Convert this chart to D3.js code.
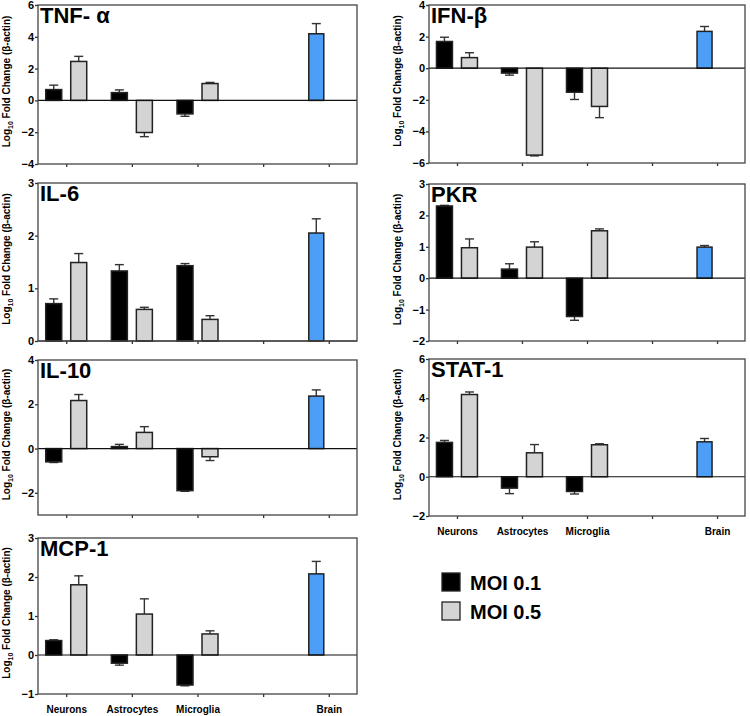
<!DOCTYPE html>
<html>
<head>
<meta charset="utf-8">
<script src="https://cdn.jsdelivr.net/npm/d3@7"></script>
<style>
  body { margin: 0; background: #fff; }
  svg { font-family: Arial, "Liberation Sans", sans-serif; font-weight: bold; }
</style>
</head>
<body>
<svg id="chart" width="750" height="716"></svg>
<script>
// categories along x (4th slot is an empty gap)
const categories = ["Neurons", "Astrocytes", "Microglia", "", "Brain"];
const cells = ["Neurons", "Astrocytes", "Microglia"];
const genes = ["TNF- α", "IFN-β", "IL-6", "PKR", "IL-10", "STAT-1", "MCP-1"];

// log10 fold change per gene, for Neurons / Astrocytes / Microglia
const moi01 = [
    [0.68, 0.49, -0.85],
    [1.69, -0.31, -1.52],
    [0.71, 1.33, 1.43],
    [2.30, 0.29, -1.22],
    [-0.60, 0.09, -1.90],
    [1.75, -0.58, -0.75],
    [0.37, -0.21, -0.77]
];
const moi01Err = [
    [0.28, 0.17, 0.15],
    [0.27, 0.13, 0.46],
    [0.09, 0.12, 0.04],
    [0.02, 0.17, 0.12],
    [0.03, 0.10, 0.03],
    [0.10, 0.28, 0.13],
    [0.02, 0.05, 0.02]
];
const moi05 = [
    [2.45, -2.02, 1.06],
    [0.67, -5.50, -2.42],
    [1.49, 0.60, 0.41],
    [0.97, 0.99, 1.51],
    [2.17, 0.73, -0.37],
    [4.19, 1.22, 1.63],
    [1.80, 1.05, 0.54]
];
const moi05Err = [
    [0.32, 0.26, 0.07],
    [0.31, 0.05, 0.71],
    [0.17, 0.04, 0.07],
    [0.28, 0.17, 0.06],
    [0.27, 0.26, 0.17],
    [0.13, 0.42, 0.05],
    [0.23, 0.39, 0.08]
];
const brain = [4.19, 2.33, 2.05, 0.99, 2.37, 1.78, 2.08];
const brainErr = [0.64, 0.31, 0.27, 0.05, 0.28, 0.17, 0.32];

// y axis extents and tick labels per gene
const yDomains = [[-4, 6], [-6, 4], [0, 3], [-2, 3], [-3, 4], [-2, 6], [-1, 3]];
const yTicks = [
    [-4, -2, 0, 2, 4, 6],
    [-6, -4, -2, 0, 2, 4],
    [0, 1, 2, 3],
    [-2, -1, 0, 1, 2, 3],
    [-2, 0, 2, 4],
    [-2, 0, 2, 4, 6],
    [-1, 0, 1, 2, 3]
];

const series = ["MOI 0.1", "MOI 0.5"];
const colors = { "MOI 0.1": "#000000", "MOI 0.5": "#d4d4d4", "Brain": "#4d9ef6" };

// panel frames: [left, right, top, bottom]
const frames = [
    [38, 357, 5, 164],
    [429, 745, 5, 163],
    [38, 357, 183, 341],
    [429, 745, 184, 341],
    [38, 357, 360, 515],
    [429, 745, 359, 516],
    [38, 357, 538, 694]
];
const showXLabels = [false, false, false, false, false, true, true];

const svg = d3.select("#chart");

genes.forEach((gene, i) => {
    const [l, r, t, b] = frames[i];
    const g = svg.append("g");

    const x = d3.scalePoint().domain(categories).range([l, r]).padding(0.43);
    const inner = d3.scaleBand().domain(series).range([-20.5, 20.5]).paddingInner(0.36);
    const y = d3.scaleLinear().domain(yDomains[i]).range([b, t]);

    // y axis
    g.append("g")
        .attr("transform", `translate(${l},0)`)
        .call(d3.axisLeft(y).tickValues(yTicks[i]).tickSize(3).tickPadding(1).tickFormat(d3.format("d")))
        .call(a => a.select(".domain").remove())
        .call(a => a.selectAll("line").attr("stroke", "#333").attr("stroke-width", 1.3))
        .call(a => a.selectAll("text").attr("font-size", 11).attr("font-weight", "bold").attr("fill", "#000"));

    // x axis
    g.append("g")
        .attr("transform", `translate(0,${b})`)
        .call(d3.axisBottom(x).tickSize(3).tickPadding(9).tickFormat(d => showXLabels[i] ? d : ""))
        .call(a => a.select(".domain").remove())
        .call(a => a.selectAll("line").attr("stroke", "#333").attr("stroke-width", 1.3))
        .call(a => a.selectAll("text").attr("font-size", 10).attr("font-weight", "bold").attr("fill", "#000"));

    // bars
    const rows = [];
    cells.forEach((c, j) => {
        rows.push({ cat: c, s: "MOI 0.1", v: moi01[i][j], e: moi01Err[i][j] });
        rows.push({ cat: c, s: "MOI 0.5", v: moi05[i][j], e: moi05Err[i][j] });
    });
    rows.push({ cat: "Brain", s: "Brain", v: brain[i], e: brainErr[i] });

    const bx = d => d.s === "Brain" ? x(d.cat) + inner("MOI 0.1") + 0.5 : x(d.cat) + inner(d.s);
    const bw = d => d.s === "Brain" ? inner.bandwidth() - 1 : inner.bandwidth();

    // error bars (one-sided, away from zero)
    const eg = g.selectAll(".err").data(rows).enter().append("g");
    eg.append("line")
        .attr("x1", d => bx(d) + bw(d) / 2)
        .attr("x2", d => bx(d) + bw(d) / 2)
        .attr("y1", d => y(d.v))
        .attr("y2", d => y(d.v >= 0 ? d.v + d.e : d.v - d.e))
        .attr("stroke", "#333").attr("stroke-width", 1.4);
    eg.append("line")
        .attr("x1", d => bx(d) + bw(d) / 2 - 4.5)
        .attr("x2", d => bx(d) + bw(d) / 2 + 4.5)
        .attr("y1", d => y(d.v >= 0 ? d.v + d.e : d.v - d.e))
        .attr("y2", d => y(d.v >= 0 ? d.v + d.e : d.v - d.e))
        .attr("stroke", "#333").attr("stroke-width", 1.4);

    g.selectAll(".bar").data(rows).enter().append("rect")
        .attr("x", bx)
        .attr("width", bw)
        .attr("y", d => y(Math.max(0, d.v)))
        .attr("height", d => Math.abs(y(d.v) - y(0)))
        .attr("fill", d => colors[d.s])
        .attr("stroke", "#222")
        .attr("stroke-width", 1.5);

    // zero line
    g.append("line")
        .attr("x1", l).attr("x2", r)
        .attr("y1", y(0)).attr("y2", y(0))
        .attr("stroke", "#111").attr("stroke-width", 1.2);

    // frame
    g.append("rect")
        .attr("x", l).attr("y", t)
        .attr("width", r - l).attr("height", b - t)
        .attr("fill", "none")
        .attr("stroke", "#444").attr("stroke-width", 1.3);

    // title
    g.append("text")
        .attr("x", l + 2).attr("y", t + 18)
        .attr("font-size", 22).attr("font-weight", "bold")
        .text(gene);

    // y label
    const yl = g.append("text")
        .attr("transform", `translate(${l - 28},${(t + b) / 2 - 3}) rotate(-90)`)
        .attr("text-anchor", "middle")
        .attr("font-size", 10).attr("font-weight", "bold");
    yl.append("tspan").text("Log");
    yl.append("tspan").attr("font-size", 7).attr("dy", 3).text("10");
    yl.append("tspan").attr("dy", -3).text(" Fold Change (β-actin)");
});

// legend
const legend = svg.append("g").attr("transform", "translate(442,573)");
series.forEach((s, k) => {
    legend.append("rect")
        .attr("x", 0).attr("y", k * 29)
        .attr("width", 18).attr("height", 18)
        .attr("fill", colors[s])
        .attr("stroke", "#222").attr("stroke-width", 1.3);
    legend.append("text")
        .attr("x", 28).attr("y", k * 29 + 16.5)
        .attr("font-size", 20).attr("font-weight", "bold")
        .text(s);
});
</script>
</body>
</html>
